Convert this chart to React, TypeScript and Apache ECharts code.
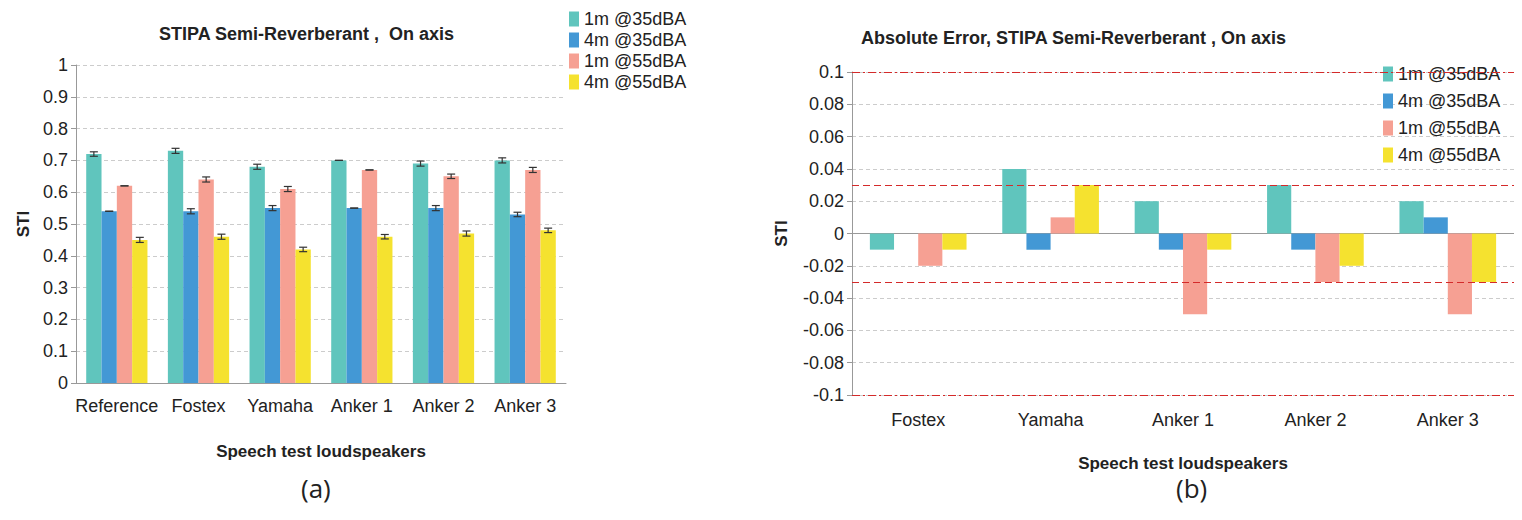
import React, { useEffect, useRef } from "react";
import * as echarts from "echarts";

const seriesNames = ["1m @35dBA", "4m @35dBA", "1m @55dBA", "4m @55dBA"];
const colors = ["#60c5bd", "#4398d5", "#f6a093", "#f5e22f"];

const leftCats = ["Reference", "Fostex", "Yamaha", "Anker 1", "Anker 2", "Anker 3"];
const leftValues = [
  [0.72, 0.73, 0.68, 0.7, 0.69, 0.7],
  [0.54, 0.54, 0.55, 0.55, 0.55, 0.53],
  [0.62, 0.64, 0.61, 0.67, 0.65, 0.67],
  [0.45, 0.46, 0.42, 0.46, 0.47, 0.48],
];
const leftErrors = [
  [0.007, 0.008, 0.008, 0, 0.008, 0.008],
  [0, 0.008, 0.008, 0, 0.008, 0.007],
  [0, 0.008, 0.008, 0, 0.007, 0.008],
  [0.008, 0.008, 0.007, 0.007, 0.008, 0.007],
];

const rightCats = ["Fostex", "Yamaha", "Anker 1", "Anker 2", "Anker 3"];
const rightValues = [
  [-0.01, 0.04, 0.02, 0.03, 0.02],
  [0, -0.01, -0.01, -0.01, 0.01],
  [-0.02, 0.01, -0.05, -0.03, -0.05],
  [-0.01, 0.03, -0.01, -0.02, -0.03],
];
const dashDotLines = [0.1, -0.1];
const dashedLines = [0.03, -0.03];

const App = () => {
  const chartRef = useRef(null);

  useEffect(() => {
    const chart = echarts.init(chartRef.current, null, { renderer: "svg" });
    const gap = 0.25;
    const series: any[] = [];

    seriesNames.forEach((name, i) => {
      series.push({
        name,
        type: "bar",
        xAxisIndex: 0,
        yAxisIndex: 0,
        data: leftValues[i],
        itemStyle: { color: colors[i] },
        barGap: "0%",
        barCategoryGap: "25%",
      });
      series.push({
        type: "custom",
        xAxisIndex: 0,
        yAxisIndex: 0,
        z: 5,
        data: leftValues[i].map((v, k) => [k, v, leftErrors[i][k]]),
        renderItem: (params: any, api: any) => {
          const band = api.size([1, 0])[0];
          const w = (band * (1 - gap)) / 4;
          const off = -band * (1 - gap) / 2 + w * (i + 0.5);
          const x = api.coord([api.value(0), 0])[0] + off;
          const hi = api.coord([api.value(0), api.value(1) + api.value(2)])[1];
          const lo = api.coord([api.value(0), api.value(1) - api.value(2)])[1];
          const st = { stroke: "#333", lineWidth: 1.2 };
          return {
            type: "group",
            children: [
              { type: "line", shape: { x1: x, y1: hi, x2: x, y2: lo }, style: st },
              { type: "line", shape: { x1: x - 4, y1: hi, x2: x + 4, y2: hi }, style: st },
              { type: "line", shape: { x1: x - 4, y1: lo, x2: x + 4, y2: lo }, style: st },
            ],
          };
        },
      });
      series.push({
        name,
        type: "bar",
        xAxisIndex: 1,
        yAxisIndex: 1,
        data: rightValues[i],
        itemStyle: { color: colors[i] },
        barGap: "0%",
        barCategoryGap: "27%",
        markLine:
          i === 0
            ? {
                silent: true,
                symbol: "none",
                label: { show: false },
                lineStyle: { color: "#d42a2a" },
                data: [
                  ...dashDotLines.map((v) => ({
                    yAxis: v,
                    lineStyle: { color: "#d42a2a", type: [8, 3, 2, 3], width: 1.2 },
                  })),
                  ...dashedLines.map((v) => ({
                    yAxis: v,
                    lineStyle: { color: "#d42a2a", type: [7, 4], width: 1.2 },
                  })),
                ],
              }
            : undefined,
      });
    });

    const axisLabel = { color: "#222", fontSize: 18, fontFamily: "Liberation Sans" };
    const nameStyle = { color: "#222", fontSize: 17, fontWeight: "bold", fontFamily: "Liberation Sans" };
    const legendBase = {
      orient: "vertical",
      icon: "rect",
      itemWidth: 10,
      itemHeight: 15,
      itemGap: 3,
      textStyle: { fontSize: 18, color: "#222", fontFamily: "Liberation Sans" },
      data: seriesNames,
    };

    chart.setOption({
      animation: false,
      textStyle: { fontFamily: "Liberation Sans" },
      title: [
        { text: "STIPA Semi-Reverberant ,  On axis", left: 146, top: 12, textStyle: { fontSize: 18, fontWeight: "bold", color: "#222" } },
        { text: "Absolute Error, STIPA Semi-Reverberant , On axis", left: 848, top: 16, textStyle: { fontSize: 18, fontWeight: "bold", color: "#222" } },
        { text: "(a)", left: 288, top: 462, textStyle: { fontSize: 26, fontWeight: "normal", color: "#222", fontFamily: "Open Sans" } },
        { text: "(b)", left: 1163, top: 462, textStyle: { fontSize: 26, fontWeight: "normal", color: "#222", fontFamily: "Open Sans" } },
      ],
      legend: [
        { ...legendBase, left: 556, top: -3 },
        { ...legendBase, left: 1370, top: 52, itemGap: 9 },
      ],
      grid: [
        { left: 68, width: 490, top: 57, height: 318 },
        { left: 844, width: 666, top: 64, height: 323 },
      ],
      xAxis: [
        {
          type: "category", gridIndex: 0, data: leftCats,
          axisLine: { lineStyle: { color: "#999" } },
          axisTick: { lineStyle: { color: "#999" }, length: 8 },
          axisLabel: { ...axisLabel, margin: 14, interval: 0 },
          name: "Speech test loudspeakers", nameLocation: "middle", nameGap: 60, nameTextStyle: nameStyle,
        },
        {
          type: "category", gridIndex: 1, data: rightCats, position: "bottom",
          axisLine: { onZero: true, lineStyle: { color: "#999" } },
          axisTick: { lineStyle: { color: "#999" }, length: 6 },
          axisLabel: { show: false },
        },
        {
          type: "category", gridIndex: 1, data: rightCats, position: "bottom",
          axisLine: { show: false }, axisTick: { show: false },
          axisLabel: { ...axisLabel, margin: 16, interval: 0 },
          name: "Speech test loudspeakers", nameLocation: "middle", nameGap: 60, nameTextStyle: nameStyle,
        },
      ],
      yAxis: [
        {
          type: "value", gridIndex: 0, min: 0, max: 1, interval: 0.1,
          axisLine: { show: true, lineStyle: { color: "#999" } },
          axisTick: { show: true, lineStyle: { color: "#999" } },
          axisLabel: { ...axisLabel },
          splitLine: { lineStyle: { color: "#ccc", type: [4, 3] } },
          name: "STI", nameLocation: "middle", nameGap: 44, nameTextStyle: nameStyle,
        },
        {
          type: "value", gridIndex: 1, min: -0.1, max: 0.1, interval: 0.02,
          axisLine: { show: true, lineStyle: { color: "#999" } },
          axisTick: { show: true, lineStyle: { color: "#999" } },
          axisLabel: { ...axisLabel, formatter: (v: number) => String(Math.round(v * 100) / 100) },
          splitLine: { lineStyle: { color: "#ccc", type: [4, 3] } },
          name: "STI", nameLocation: "middle", nameGap: 62, nameTextStyle: nameStyle,
        },
      ],
      series,
    });

    return () => chart.dispose();
  }, []);

  return <div ref={chartRef} style={{ width: 1506, height: 504 }}></div>;
};

export default App;
